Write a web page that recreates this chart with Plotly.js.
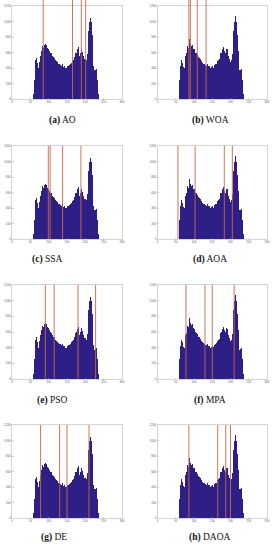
<!DOCTYPE html>
<html>
<head>
<meta charset="utf-8">
<script src="https://cdn.plot.ly/plotly-3.0.1.min.js"></script>
<style>html,body{margin:0;padding:0;background:#fff;}#chart{width:275px;height:550px;}</style>
</head>
<body>
<div id="chart"></div>
<script>
// Shared grey-level histogram (bin width 2, first bin centred at 59)
const binStart = 59;
const binWidth = 2;
const counts = [
  60, 250, 420, 500, 530, 470, 410, 395, 480, 560,
  590, 620, 680, 660, 780, 700, 710, 690, 700, 660,
  650, 640, 620, 600, 590, 570, 560, 540, 530, 515,
  500, 490, 470, 475, 455, 450, 440, 445, 430, 450,
  420, 415, 425, 400, 410, 400, 420, 405, 430, 440,
  450, 455, 470, 490, 500, 510, 540, 590, 600, 560,
  640, 665, 620, 560, 600, 650, 640, 610, 560, 520,
  480, 520, 500, 580, 700, 880, 1000, 1070, 1050, 990,
  830, 620, 430, 370, 380, 410, 390, 250, 60
];

// Panel labels and algorithm names
const panelLetters = ["(a)", "(b)", "(c)", "(d)", "(e)", "(f)", "(g)", "(h)"];
const algorithms = ["AO", "WOA", "SSA", "AOA", "PSO", "MPA", "DE", "DAOA"];

// Thresholds found by each algorithm
const thrAO   = [85, 165, 189, 201];
const thrWOA  = [86, 90, 109, 133];
const thrSSA  = [99, 104, 138, 188];
const thrAOA  = [56, 103, 183, 205];
const thrPSO  = [91, 115, 180, 228];
const thrMPA  = [78, 130, 150, 210];
const thrDE   = [78, 130, 150, 210];
const thrDAOA = [86, 165, 187, 200];
const thresholds = [thrAO, thrWOA, thrSSA, thrAOA, thrPSO, thrMPA, thrDE, thrDAOA];

// Axis ticks
const xTicks = [0, 50, 100, 150, 200, 250, 300];
const yTicks = [0, 200, 400, 600, 800, 1000, 1200];

const binCenters = counts.map((_, i) => binStart + i * binWidth);

const W = 275, H = 550;
const colDom = [[12 / W, 122 / W], [157.5 / W, 267 / W]];
const rowPx = [[6, 99], [146, 239], [285, 379], [425, 518]];
const captionY = [121, 260, 400, 537];
const captionX = [[62, 210], [47, 210], [52, 210], [54, 210]];

const data = [];
const layout = {
  width: W, height: H,
  margin: {l: 0, r: 0, t: 0, b: 0},
  paper_bgcolor: "#fff", plot_bgcolor: "#fff",
  showlegend: false,
  bargap: 0,
  shapes: [],
  annotations: []
};

for (let p = 0; p < 8; p++) {
  const row = Math.floor(p / 2), col = p % 2;
  const n = p + 1;
  const xa = n === 1 ? "x" : "x" + n;
  const ya = n === 1 ? "y" : "y" + n;
  const xk = n === 1 ? "xaxis" : "xaxis" + n;
  const yk = n === 1 ? "yaxis" : "yaxis" + n;
  data.push({
    type: "bar", x: binCenters, y: counts, width: binWidth,
    xaxis: xa, yaxis: ya,
    marker: {color: "#2e1f86", line: {width: 0}},
    hoverinfo: "skip"
  });
  const axCommon = {
    showgrid: false, zeroline: false,
    showline: true, mirror: true, linecolor: "#b8b8b8", linewidth: 0.6,
    ticks: "inside", ticklen: 1.5, tickwidth: 0.5, tickcolor: "#999",
    tickfont: {size: 3, color: "#666", family: "Liberation Sans"}
  };
  layout[xk] = Object.assign({}, axCommon, {
    domain: colDom[col], anchor: ya, range: [0, 300],
    tickmode: "array", tickvals: xTicks, ticktext: xTicks.map(String)
  });
  const [t, b] = rowPx[row];
  layout[yk] = Object.assign({}, axCommon, {
    domain: [1 - b / H, 1 - t / H], anchor: xa, range: [0, 1200],
    tickmode: "array", tickvals: yTicks, ticktext: yTicks.map(String)
  });
  const top = row === 0 ? 1 + 6 / (b - t) : 1;
  thresholds[p].forEach(v => {
    layout.shapes.push({
      type: "line", xref: xa, yref: ya + " domain",
      x0: v, x1: v, y0: 0, y1: top,
      line: {color: "rgb(205,100,70)", width: 0.9}
    });
  });
  layout.annotations.push({
    xref: "paper", yref: "paper",
    x: captionX[row][col] / W, y: 1 - captionY[row] / H,
    xanchor: "center", yanchor: "middle", showarrow: false,
    text: "<b>" + panelLetters[p] + "</b> " + algorithms[p],
    font: {family: "'Liberation Serif', 'DejaVu Serif', serif", size: 9.5, color: "#111"}
  });
}

Plotly.newPlot("chart", data, layout, {staticPlot: true, displayModeBar: false});
</script>
</body>
</html>
